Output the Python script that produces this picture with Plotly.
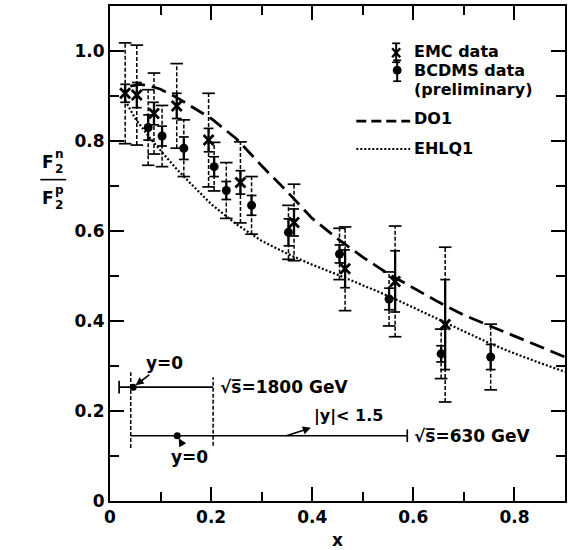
import plotly.graph_objects as go

# ---- EMC data: x, F2n/F2p, statistical and total errors ----
emc_x = [0.030, 0.053, 0.087, 0.132, 0.195, 0.258, 0.364, 0.465, 0.564, 0.663]
emc_y = [0.906, 0.902, 0.861, 0.878, 0.802, 0.708, 0.619, 0.516, 0.488, 0.392]
emc_stat = [0.020, 0.028, 0.025, 0.028, 0.026, 0.026, 0.030, 0.042, 0.068, 0.100]
emc_tot = [0.112, 0.111, 0.090, 0.094, 0.104, 0.090, 0.085, 0.093, 0.123, 0.172]

# ---- BCDMS data (preliminary) ----
bcdms_x = [0.0755, 0.103, 0.146, 0.206, 0.230, 0.280, 0.353, 0.454, 0.552, 0.655, 0.753]
bcdms_y = [0.830, 0.811, 0.784, 0.743, 0.690, 0.657, 0.597, 0.549, 0.449, 0.327, 0.320]
bcdms_stat = [0.028, 0.022, 0.025, 0.022, 0.020, 0.022, 0.030, 0.020, 0.024, 0.018, 0.028]
bcdms_tot = [0.084, 0.068, 0.063, 0.054, 0.062, 0.064, 0.060, 0.057, 0.060, 0.055, 0.073]

# ---- parametrisations ----
do1_x = [0.04, 0.06, 0.08, 0.10, 0.13, 0.16, 0.20, 0.25, 0.30, 0.35, 0.40,
         0.45, 0.50, 0.55, 0.60, 0.65, 0.70, 0.75, 0.80, 0.85, 0.90]
do1_y = [0.922, 0.926, 0.922, 0.915, 0.898, 0.878, 0.850, 0.805, 0.745, 0.688, 0.628,
         0.583, 0.542, 0.505, 0.473, 0.442, 0.413, 0.390, 0.366, 0.343, 0.320]
ehlq1_x = [0.03, 0.05, 0.08, 0.10, 0.13, 0.16, 0.20, 0.25, 0.30, 0.35, 0.40,
           0.45, 0.50, 0.55, 0.60, 0.65, 0.70, 0.75, 0.80, 0.85, 0.90]
ehlq1_y = [0.890, 0.850, 0.805, 0.778, 0.740, 0.705, 0.660, 0.615, 0.578, 0.550, 0.525,
           0.503, 0.479, 0.456, 0.430, 0.403, 0.377, 0.351, 0.328, 0.307, 0.287]

# ---- x coverage of the jet samples ----
cov_level = [0.253, 0.145]          # row heights
cov_lo = [0.018, 0.041]
cov_hi = [0.204, 0.588]
cov_y0 = [0.046, 0.133]             # x at y=0
cov_labels = ["√s̅=1800 GeV", "√s̅=630 GeV"]
edge_x = [0.041, 0.204]             # dashed boundaries
edge_lo = [0.118, 0.123]
edge_hi = [0.286, 0.275]

BLACK = "black"
FONT = "DejaVu Sans"
TXT = dict(family=FONT, size=17, color=BLACK, weight="bold")


def segments(xs, lo, hi):
    X, Y = [], []
    for x, a, b in zip(xs, lo, hi):
        X += [x, x, None]
        Y += [a, b, None]
    return X, Y


def error_traces(xs, ys, stat, tot):
    out = []
    lo = [y - e for y, e in zip(ys, tot)]
    hi = [y + e for y, e in zip(ys, tot)]
    X, Y = segments(xs, lo, hi)
    out.append(go.Scatter(x=X, y=Y, mode="lines",
                          line=dict(color=BLACK, width=1.5, dash="4px,2px")))
    out.append(go.Scatter(x=xs + xs, y=lo + hi, mode="markers",
                          marker=dict(symbol="line-ew", size=9,
                                      line=dict(color=BLACK, width=1.7))))
    slo = [y - e for y, e in zip(ys, stat)]
    shi = [y + e for y, e in zip(ys, stat)]
    X, Y = segments(xs, slo, shi)
    out.append(go.Scatter(x=X, y=Y, mode="lines", line=dict(color=BLACK, width=2.3)))
    out.append(go.Scatter(x=xs + xs, y=slo + shi, mode="markers",
                          marker=dict(symbol="line-ew", size=7,
                                      line=dict(color=BLACK, width=1.7))))
    return out


fig = go.Figure()

fig.add_trace(go.Scatter(x=do1_x, y=do1_y, mode="lines",
                         line=dict(color=BLACK, width=2.8, dash="15px,7px")))
fig.add_trace(go.Scatter(x=ehlq1_x, y=ehlq1_y, mode="lines",
                         line=dict(color=BLACK, width=2.2, dash="2px,2px")))

for t in error_traces(emc_x, emc_y, emc_stat, emc_tot):
    fig.add_trace(t)
for t in error_traces(bcdms_x, bcdms_y, bcdms_stat, bcdms_tot):
    fig.add_trace(t)

fig.add_trace(go.Scatter(x=emc_x, y=emc_y, mode="markers",
                         marker=dict(symbol="x-thin", size=10,
                                     line=dict(color=BLACK, width=2.8))))
fig.add_trace(go.Scatter(x=bcdms_x, y=bcdms_y, mode="markers",
                         marker=dict(symbol="circle", size=9, color=BLACK)))

# coverage rows
X, Y = [], []
for lvl, a, b in zip(cov_level, cov_lo, cov_hi):
    X += [a, b, None]
    Y += [lvl, lvl, None]
fig.add_trace(go.Scatter(x=X, y=Y, mode="lines", line=dict(color=BLACK, width=1.7)))
X, Y = segments(edge_x, edge_lo, edge_hi)
fig.add_trace(go.Scatter(x=X, y=Y, mode="lines",
                         line=dict(color=BLACK, width=1.5, dash="4px,2px")))
fig.add_trace(go.Scatter(x=[cov_lo[0], cov_hi[1]], y=[cov_level[0], cov_level[1]],
                         mode="markers",
                         marker=dict(symbol="line-ns", size=9,
                                     line=dict(color=BLACK, width=1.7))))
fig.add_trace(go.Scatter(x=cov_y0, y=cov_level, mode="markers",
                         marker=dict(symbol="circle", size=7, color=BLACK)))

annotations = []
for lvl, b, txt in zip(cov_level, cov_hi, cov_labels):
    annotations.append(dict(x=b, y=lvl, xref="x", yref="y", text=txt,
                            showarrow=False, xanchor="left", yanchor="middle",
                            xshift=5, font=TXT))
# y=0 pointers and rapidity cut
annotations.append(dict(x=cov_y0[0], y=cov_level[0], xref="x", yref="y", text="y=0",
                        showarrow=True, arrowhead=2, arrowsize=1, arrowwidth=1.6,
                        arrowcolor=BLACK, standoff=3, ax=31, ay=-24, font=TXT))
annotations.append(dict(x=cov_y0[1], y=cov_level[1], xref="x", yref="y", text="y=0",
                        showarrow=True, arrowhead=2, arrowsize=1, arrowwidth=1.6,
                        arrowcolor=BLACK, standoff=3, ax=12, ay=21, font=TXT))
annotations.append(dict(x=0.349, y=cov_level[1], xref="x", yref="y", text="|y|< 1.5",
                        showarrow=True, arrowside="start", startarrowhead=2,
                        startarrowsize=1, arrowwidth=1.6, arrowcolor=BLACK,
                        startstandoff=2, ax=62, ay=-20,
                        font=dict(family=FONT, size=16, color=BLACK, weight="bold")))

# legend entries
LEG = dict(family=FONT, size=16, color=BLACK, weight="bold")
leg_text_x = 0.598
annotations += [
    dict(x=leg_text_x, y=(502 - 51) / 451.3, xref="x", yref="y", text="EMC data",
         showarrow=False, xanchor="left", yanchor="middle", font=LEG),
    dict(x=leg_text_x, y=(502 - 70) / 451.3, xref="x", yref="y", text="BCDMS data",
         showarrow=False, xanchor="left", yanchor="middle", font=LEG),
    dict(x=leg_text_x, y=(502 - 89) / 451.3, xref="x", yref="y", text="(preliminary)",
         showarrow=False, xanchor="left", yanchor="middle", font=LEG),
    dict(x=leg_text_x, y=0.850, xref="x", yref="y", text="DO1", showarrow=False,
         xanchor="left", yanchor="middle", font=LEG),
    dict(x=leg_text_x, y=0.784, xref="x", yref="y", text="EHLQ1", showarrow=False,
         xanchor="left", yanchor="middle", font=LEG),
]

# y-axis label F2n / F2p
def ylab(px, py, text, size):
    return dict(x=(px - 110) / 457, y=(502 - py) / 496, xref="paper", yref="paper",
                text=text, showarrow=False, xanchor="center", yanchor="middle",
                font=dict(family=FONT, size=size, color=BLACK, weight="bold"))

annotations += [
    ylab(48, 162, "F", 17), ylab(59, 154, "n", 12), ylab(59, 169, "2", 12),
    ylab(48, 198, "F", 17), ylab(59, 190, "p", 12), ylab(59, 205, "2", 12),
]

# legend key geometry (pixels converted to data units)
def dx(px):
    return (px - 110) / 507


def dy(py):
    return (502 - py) / 451.3


def seg(x0, y0, x1, y1, w, dash=None):
    ln = dict(color=BLACK, width=w)
    if dash:
        ln["dash"] = dash
    return dict(type="line", xref="x", yref="y", x0=dx(x0), y0=dy(y0),
                x1=dx(x1), y1=dy(y1), line=ln)


shapes = [
    dict(type="line", xref="paper", yref="paper",
         x0=(40 - 110) / 457, x1=(66 - 110) / 457,
         y0=(502 - 180) / 496, y1=(502 - 180) / 496, line=dict(color=BLACK, width=1.6)),
    seg(357, 121, 411, 121, 2.8, "10px,5px"),
    seg(357, 149, 411, 149, 2.2, "2px,2px"),
    # EMC key
    seg(397, 43, 397, 62, 2),
    seg(393, 43, 401, 43, 1.7),
    seg(393, 62, 401, 62, 1.7),
    seg(393, 48, 401, 57, 2.4),
    seg(393, 57, 401, 48, 2.4),
    # BCDMS key
    seg(398, 60, 398, 81, 2),
    seg(394, 60, 402, 60, 1.7),
    seg(394, 81, 402, 81, 1.7),
    dict(type="circle", xref="x", yref="y", x0=dx(394), x1=dx(402),
         y0=dy(74), y1=dy(66), fillcolor=BLACK, line=dict(color=BLACK, width=1)),
]

axis_common = dict(showline=True, linewidth=2, linecolor=BLACK, mirror="ticks",
                   ticks="inside", ticklen=14, tickwidth=2, tickcolor=BLACK,
                   showgrid=False, zeroline=False, tickfont=TXT)

fig.update_layout(
    width=570, height=550,
    margin=dict(l=110, r=3, t=6, b=48),
    paper_bgcolor="white", plot_bgcolor="white",
    font=TXT,
    showlegend=False,
    annotations=annotations,
    shapes=shapes,
    xaxis=dict(range=[0, 0.9],
               tickvals=[0, 0.2, 0.4, 0.6, 0.8],
               ticktext=["0", "0.2", "0.4", "0.6", "0.8"],
               minor=dict(tickvals=[0.1, 0.3, 0.5, 0.7], ticks="inside", ticklen=9,
                          tickwidth=2, tickcolor=BLACK),
               title=dict(text="x", standoff=8, font=TXT),
               **axis_common),
    yaxis=dict(range=[0, 1.1],
               tickvals=[0, 0.2, 0.4, 0.6, 0.8, 1.0],
               ticktext=["0", "0.2", "0.4", "0.6", "0.8", "1.0"],
               minor=dict(tickvals=[0.1, 0.3, 0.5, 0.7, 0.9], ticks="inside", ticklen=9,
                          tickwidth=2, tickcolor=BLACK),
               **axis_common),
)

fig.write_html("out.html")
